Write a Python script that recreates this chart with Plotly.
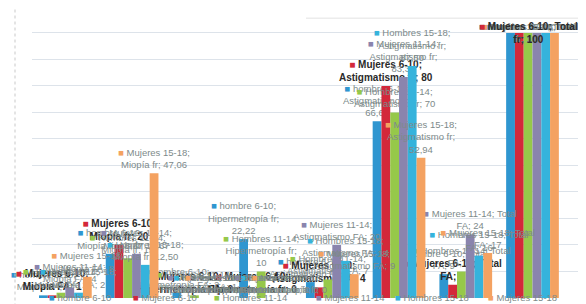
import plotly.graph_objects as go

categories = ["Miopía FA", "Miopía fr", "Hipermetropía FA", "Hipermetropía fr",
              "Astigmatismo FA", "Astigmatismo fr", "Total FA", "Total fr"]

series_names = ["hombre 6-10", "Mujeres 6-10", "Hombres 11-14",
                "Mujeres 11-14", "Hombres 15-18", "Mujeres 15-18"]

hombre_6_10 = [1, 16.67, 2, 22.22, 6, 66.67, 9, 100]
mujeres_6_10 = [1, 20, 0, 0, 4, 80, 5, 100]
hombres_11_14 = [2, 15, 1, 10, 7, 70, 10, 100]
mujeres_11_14 = [4, 16.67, 0, 0, 20, 83.33, 24, 100]
hombres_15_18 = [2, 12.5, 0, 0, 14, 87.5, 16, 100]
mujeres_15_18 = [8, 47.06, 0, 0, 9, 52.94, 17, 100]

series_values = [hombre_6_10, mujeres_6_10, hombres_11_14,
                 mujeres_11_14, hombres_15_18, mujeres_15_18]

colors = ["#2f96d0", "#d3283a", "#96c84a", "#8a84ad", "#35b3dc", "#f4a261"]

LABEL_GRAY = "#7d8a8a"
DARK = "#2a2a2a"
FONT = "Liberation Sans"
BOLD_SERIES = "Mujeres 6-10"


def fmt(v):
    if float(v).is_integer():
        return str(int(v))
    return f"{v:.2f}".replace(".", ",")


def make_label(name, cat, v, color):
    key = f"<span style='color:{color}'>■</span> "
    if cat.startswith("Total"):
        first, rest = cat.split(" ", 1)
        text = f"{key}{name}; {first}<br>{rest}; {fmt(v)}"
    else:
        tail = f"{cat}; {fmt(v)}"
        if len(tail) <= 19:
            text = f"{key}{name};<br>{tail}"
        else:
            text = f"{key}{name};<br>{cat};<br>{fmt(v)}"
    if name == BOLD_SERIES:
        text = f"<b>{text}</b>"
    return text


fig = go.Figure()
top_cat = categories[-1]
for name, vals, col in zip(series_names, series_values, colors):
    bold = name == BOLD_SERIES
    labels = [make_label(name, c, v, col) if c != top_cat else ""
              for c, v in zip(categories, vals)]
    fig.add_trace(go.Bar(
        name=name,
        x=categories,
        y=vals,
        marker=dict(color=col, line=dict(width=0)),
        text=labels,
        textposition="outside",
        textangle=0,
        constraintext="none",
        cliponaxis=False,
        textfont=dict(family=FONT, size=10 if bold else 9.5,
                      color=DARK if bold else LABEL_GRAY),
        showlegend=False,
    ))

# labels of the last category sit over the tops of the full bars (drawn bold last)
order = [i for i, n in enumerate(series_names) if n != BOLD_SERIES] + \
        [series_names.index(BOLD_SERIES)]
for i in order:
    name, vals, col = series_names[i], series_values[i], colors[i]
    bold = name == BOLD_SERIES
    fig.add_annotation(
        x=top_cat, y=vals[-1], xref="x", yref="y",
        xanchor="center", yanchor="middle", xshift=-4,
        text=make_label(name, top_cat, vals[-1], col),
        showarrow=False,
        font=dict(family=FONT, size=10 if bold else 9.5,
                  color=DARK if bold else LABEL_GRAY),
    )

# custom legend along the bottom
legend_px = [39, 123, 204, 306, 385, 478]
plot_left, plot_w = 24, 548
for name, col, px in zip(series_names, colors, legend_px):
    fig.add_annotation(
        xref="paper", yref="paper",
        x=(px - plot_left) / plot_w, y=0.003,
        xanchor="left", yanchor="middle",
        text=f"<span style='color:{col}'>■</span> {name}",
        showarrow=False,
        font=dict(family=FONT, size=9.5, color=LABEL_GRAY),
    )

fig.update_layout(
    width=586, height=304,
    margin=dict(l=24, r=14, t=0, b=14),
    barmode="group",
    bargap=0.21,
    bargroupgap=0,
    paper_bgcolor="#ffffff",
    plot_bgcolor="#ffffff",
    separators=",.",
    font=dict(family=FONT),
    xaxis=dict(showticklabels=False, showgrid=False, zeroline=False,
               showline=False, ticks=""),
    yaxis=dict(range=[0, 109.4], dtick=10, showticklabels=False,
               showgrid=True, gridcolor="#dde3ea", gridwidth=1,
               zeroline=False, showline=False, ticks=""),
    shapes=[
        dict(type="line", xref="paper", yref="paper",
             x0=-17 / 548, x1=-17 / 548, y0=-0.05, y1=1.0,
             line=dict(color="#c9c9c9", width=1, dash="dot")),
        dict(type="line", xref="paper", yref="paper",
             x0=0.5, x1=1.015, y0=0.965, y1=0.965,
             line=dict(color="#e2e2e2", width=1)),
    ],
)

fig.write_html("out.html")
